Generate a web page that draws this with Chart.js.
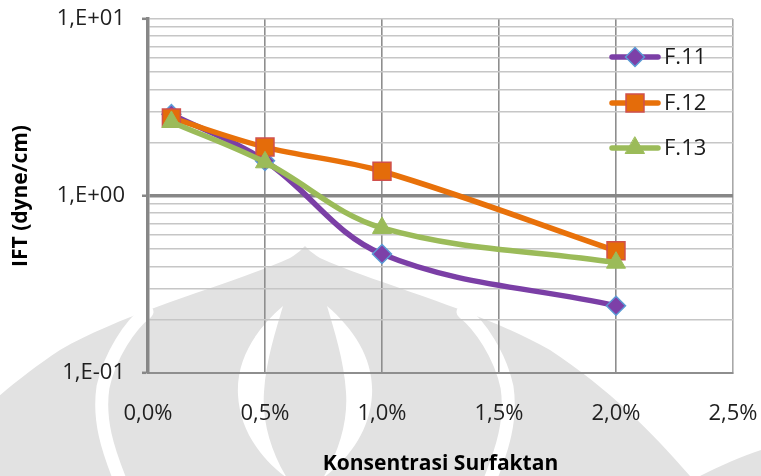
<!DOCTYPE html>
<html>
<head>
<meta charset="utf-8">
<script src="https://cdn.jsdelivr.net/npm/chart.js@4.4.1/dist/chart.umd.min.js"></script>
<style>
  html, body { margin: 0; padding: 0; background: #ffffff; }
  #wrap { position: relative; width: 761px; height: 476px; overflow: hidden; }
  #mark, #chart { position: absolute; left: 0; top: 0; }
</style>
</head>
<body>
<div id="wrap">
  <!-- faint emblem printed behind the figure -->
  <svg id="mark" width="761" height="476" viewBox="0 0 761 476">
    <g fill="#e2e2e2">
      <path d="M -80,476 C -40,430 0,390 60,350 C 130,310 230,285 290,258 Q 300,252 305,246 Q 310,252 320,258 C 380,285 480,310 550,350 C 610,390 650,430 690,476 Z"/>
      <path d="M 700,476 C 720,466 742,456 761,450 L 761,476 Z"/>
    </g>
    <g fill="#ffffff">
      <path d="M 283,306 C 255,330 236,360 238,395 C 240,430 260,458 287,478 C 270,450 262,420 264,392 C 266,360 276,330 283,306 Z"/>
      <path d="M 327,306 C 355,330 374,360 372,395 C 370,430 350,458 323,478 C 340,450 348,420 346,392 C 344,360 334,330 327,306 Z"/>
    </g>
    <g fill="none" stroke="#ffffff" stroke-width="13" stroke-linecap="round">
      <path d="M 463,312 C 480,325 500,355 507,387 C 512,420 502,450 490,480"/>
      <path d="M 147,312 C 130,325 110,355 103,387 C 98,420 108,450 120,480"/>
    </g>
  </svg>
  <canvas id="chart" width="761" height="476"></canvas>
</div>
<script>
// Surfactant concentration (%) and interfacial tension (dyne/cm) per formula
const concentrations = [0.1, 0.5, 1.0, 2.0];
const iftF11 = [2.9, 1.58, 0.47, 0.24];
const iftF12 = [2.76, 1.89, 1.38, 0.49];
const iftF13 = [2.62, 1.55, 0.66, 0.42];
const seriesNames = ['F.11', 'F.12', 'F.13'];

// Axis ticks
const xTickValues = [0, 0.5, 1.0, 1.5, 2.0, 2.5];
const xTickLabels = ['0,0%', '0,5%', '1,0%', '1,5%', '2,0%', '2,5%'];
const yDecades = [0.1, 1, 10];
const yDecadeLabels = ['1,E-01', '1,E+00', '1,E+01'];

const toPoints = (vals) => concentrations.map((c, i) => ({ x: c, y: vals[i] }));

const isDecade = (v) => Math.abs(Math.log10(v) - Math.round(Math.log10(v))) < 1e-9;

const FONT = '"Open Sans"';

// legend drawn inside the plot, at the upper right
const seriesKey = {
  id: 'seriesKey',
  afterDatasetsDraw(chart) {
    const ctx = chart.ctx;
    const rows = [57, 103, 148];
    chart.data.datasets.forEach((ds, i) => {
      const y = rows[i];
      ctx.save();
      ctx.strokeStyle = ds.borderColor;
      ctx.lineWidth = ds.borderWidth;
      ctx.lineCap = 'round';
      ctx.beginPath();
      ctx.moveTo(612, y);
      ctx.lineTo(658, y);
      ctx.stroke();
      ctx.fillStyle = ds.pointBackgroundColor;
      ctx.strokeStyle = ds.pointBorderColor;
      ctx.lineWidth = ds.pointBorderWidth;
      Chart.helpers.drawPoint(ctx, {
        pointStyle: ds.pointStyle,
        radius: ds.pointRadius,
        rotation: 0,
        borderWidth: ds.pointBorderWidth
      }, 635, y);
      ctx.fillStyle = '#1a1a1a';
      ctx.font = '22px ' + FONT;
      ctx.textBaseline = 'middle';
      ctx.textAlign = 'left';
      ctx.fillText(ds.label, 664, y + 1);
      ctx.restore();
    });
  }
};

new Chart(document.getElementById('chart'), {
  type: 'line',
  data: {
    datasets: [
      {
        label: seriesNames[0],
        data: toPoints(iftF11),
        borderColor: '#7b3fa6',
        borderWidth: 5.5,
        pointStyle: 'rectRot',
        pointRadius: 9.5,
        pointBackgroundColor: '#7d40a8',
        pointBorderColor: '#5b9bd5',
        pointBorderWidth: 1.5,
        order: 3
      },
      {
        label: seriesNames[1],
        data: toPoints(iftF12),
        borderColor: '#e8710a',
        borderWidth: 5.5,
        pointStyle: 'rect',
        pointRadius: 12.7,
        pointBackgroundColor: '#e46c0a',
        pointBorderColor: '#d0504d',
        pointBorderWidth: 1.5,
        order: 2
      },
      {
        label: seriesNames[2],
        data: toPoints(iftF13),
        borderColor: '#9bbb59',
        borderWidth: 5.5,
        pointStyle: 'triangle',
        pointRadius: 11,
        pointBackgroundColor: '#9bbb59',
        pointBorderColor: '#9bbb59',
        pointBorderWidth: 1,
        order: 1
      }
    ]
  },
  options: {
    responsive: false,
    animation: false,
    devicePixelRatio: 1,
    clip: false,
    layout: { padding: { top: 19, right: 28, bottom: 0, left: 0 } },
    elements: { line: { tension: 0.36, fill: false } },
    plugins: {
      legend: { display: false },
      tooltip: { enabled: false }
    },
    scales: {
      x: {
        type: 'linear',
        min: 0,
        max: 2.5,
        afterBuildTicks: (scale) => { scale.ticks = xTickValues.map(v => ({ value: v })); },
        afterFit: (scale) => {
          scale.height = 103;
          scale.paddingLeft = 0;
          scale.paddingRight = 0;
        },
        ticks: {
          padding: 28,
          color: '#1f1f1f',
          font: { family: FONT, size: 22 },
          maxRotation: 0,
          autoSkip: false,
          callback: (v) => xTickLabels[xTickValues.findIndex(t => Math.abs(t - v) < 1e-9)]
        },
        grid: {
          drawTicks: false,
          color: (c) => (c.tick && c.tick.value === 2.5) ? '#a8a8a8' : '#8e8e8e',
          lineWidth: 1.6
        },
        border: { color: '#8e8e8e', width: 2 },
        title: {
          display: true,
          text: 'Konsentrasi Surfaktan',
          color: '#000000',
          font: { family: FONT, size: 21, weight: 'bold', lineHeight: 1 },
          padding: { top: 0, bottom: 1 }
        }
      },
      y: {
        type: 'logarithmic',
        min: 0.1,
        max: 10,
        afterBuildTicks: (scale) => {
          const t = [];
          [0.1, 1].forEach(d => { for (let k = 1; k <= 9; k++) t.push({ value: k * d }); });
          t.push({ value: 10 });
          scale.ticks = t;
        },
        afterFit: (scale) => {
          scale.width = 148;
          scale.paddingTop = 0;
          scale.paddingBottom = 0;
        },
        ticks: {
          padding: 17,
          color: '#1f1f1f',
          font: { family: FONT, size: 22 },
          autoSkip: false,
          callback: (v) => {
            const i = yDecades.findIndex(d => Math.abs(d - v) < 1e-9);
            return i >= 0 ? yDecadeLabels[i] : '';
          }
        },
        grid: {
          drawTicks: true,
          tickLength: 6,
          tickWidth: 2.5,
          tickColor: (c) => (c.tick && isDecade(c.tick.value)) ? '#878787' : 'rgba(0,0,0,0)',
          color: (c) => {
            const v = c.tick ? c.tick.value : 0;
            if (Math.abs(v - 1) < 1e-9) return '#878787';
            if (Math.abs(v - 0.1) < 1e-9) return '#8e8e8e';
            return '#c6c6c6';
          },
          lineWidth: (c) => {
            const v = c.tick ? c.tick.value : 0;
            if (Math.abs(v - 1) < 1e-9) return 3.5;
            return 1.6;
          }
        },
        border: { color: '#878787', width: 3.5 },
        title: {
          display: true,
          text: 'IFT (dyne/cm)',
          color: '#000000',
          font: { family: FONT, size: 21, weight: 'bold', lineHeight: 1 },
          padding: { top: 11, bottom: 0 }
        }
      }
    }
  },
  plugins: [seriesKey]
});
</script>
</body>
</html>
